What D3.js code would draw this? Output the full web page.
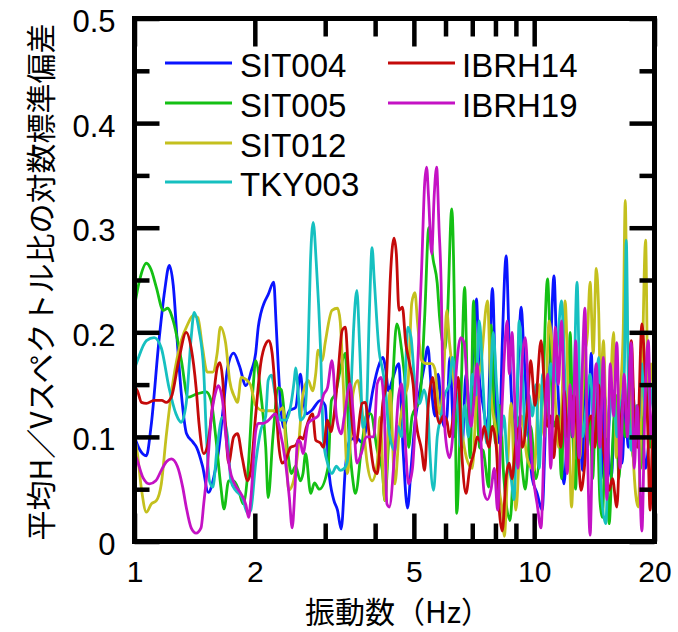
<!DOCTYPE html>
<html><head><meta charset="utf-8">
<script src="https://cdn.jsdelivr.net/npm/d3@7"></script>
<style>
html,body{margin:0;padding:0;background:#fff;}
svg{display:block;}
</style></head>
<body>
<svg id="chart" width="678" height="632"></svg>
<script>
// ---- data (frequency Hz, log standard deviation) ----
const SIT004 = [[1.00,0.100],[1.03,0.088],[1.071,0.082],[1.10,0.11],[1.15,0.19],[1.19,0.24],[1.222,0.264],[1.25,0.245],[1.28,0.19],[1.31,0.141],[1.35,0.103],[1.40,0.095],[1.43,0.09],[1.48,0.072],[1.53,0.047],[1.58,0.062],[1.62,0.084],[1.67,0.13],[1.71,0.166],[1.77,0.18],[1.83,0.168],[1.90,0.149],[1.96,0.163],[2.01,0.18],[2.04,0.205],[2.07,0.218],[2.11,0.228],[2.16,0.236],[2.23,0.248],[2.26,0.21],[2.29,0.166],[2.36,0.109],[2.44,0.125],[2.53,0.128],[2.60,0.16],[2.64,0.14],[2.69,0.122],[2.77,0.125],[2.92,0.135],[3.00,0.13],[3.06,0.07],[3.15,0.04],[3.22,0.03],[3.29,0.012],[3.37,0.07],[3.46,0.097],[3.60,0.099],[3.70,0.095],[3.85,0.12],[3.95,0.145],[4.10,0.17],[4.18,0.176],[4.25,0.165],[4.32,0.144],[4.42,0.155],[4.58,0.17],[4.70,0.087],[4.82,0.032],[4.92,0.07],[5.03,0.113],[5.15,0.14],[5.30,0.166],[5.42,0.186],[5.52,0.15],[5.65,0.12],[5.75,0.16],[5.85,0.13],[5.95,0.11],[6.05,0.12],[6.15,0.176],[6.3,0.1],[6.45,0.14],[6.6,0.09],[6.75,0.16],[6.9,0.12],[7.05,0.19],[7.17,0.232],[7.29,0.157],[7.45,0.13],[7.64,0.109],[7.86,0.242],[8.04,0.125],[8.18,0.094],[8.32,0.189],[8.51,0.273],[8.66,0.189],[8.81,0.125],[8.95,0.1],[9.28,0.224],[9.40,0.19],[9.60,0.125],[9.88,0.061],[10.17,0.046],[10.47,0.03],[10.7,0.12],[10.95,0.17],[11.21,0.254],[11.4,0.17],[11.66,0.094],[11.87,0.055],[12.05,0.09],[12.2,0.14],[12.4,0.1],[12.6,0.16],[12.8,0.08],[13.0,0.12],[13.2,0.068],[13.4,0.15],[13.6,0.1],[13.9,0.18],[14.1,0.09],[14.4,0.13],[14.7,0.06],[15.0,0.14],[15.3,0.09],[15.6,0.061],[15.9,0.12],[16.2,0.08],[16.6,0.075],[16.9,0.13],[17.2,0.09],[17.6,0.15],[18.0,0.1],[18.5,0.12],[19.0,0.07],[19.5,0.1],[20,0.08]];
const SIT005 = [[1.00,0.225],[1.03,0.25],[1.071,0.266],[1.10,0.26],[1.134,0.243],[1.18,0.221],[1.21,0.223],[1.25,0.211],[1.31,0.173],[1.36,0.138],[1.43,0.141],[1.51,0.143],[1.554,0.135],[1.60,0.097],[1.645,0.052],[1.675,0.031],[1.72,0.058],[1.77,0.058],[1.82,0.05],[1.87,0.036],[1.92,0.065],[1.98,0.147],[2.01,0.173],[2.07,0.141],[2.13,0.09],[2.16,0.042],[2.22,0.1],[2.29,0.147],[2.33,0.145],[2.41,0.09],[2.47,0.065],[2.53,0.072],[2.60,0.058],[2.64,0.065],[2.68,0.084],[2.76,0.046],[2.82,0.056],[2.90,0.05],[3.05,0.071],[3.11,0.135],[3.18,0.141],[3.28,0.166],[3.37,0.18],[3.42,0.12],[3.52,0.058],[3.57,0.046],[3.70,0.09],[3.82,0.122],[3.90,0.122],[4.05,0.087],[4.17,0.068],[4.23,0.039],[4.33,0.1],[4.40,0.135],[4.53,0.208],[4.66,0.183],[4.77,0.144],[4.85,0.09],[4.95,0.12],[5.17,0.135],[5.32,0.214],[5.45,0.30],[5.59,0.269],[5.72,0.247],[5.80,0.214],[5.97,0.183],[6.06,0.21],[6.22,0.318],[6.32,0.214],[6.40,0.027],[6.55,0.13],[6.70,0.243],[6.80,0.15],[6.92,0.08],[7.05,0.23],[7.15,0.16],[7.3,0.09],[7.45,0.087],[7.7,0.052],[7.8,0.207],[8.0,0.094],[8.2,0.13],[8.4,0.06],[8.7,0.02],[8.9,0.08],[9.07,0.12],[9.33,0.07],[9.5,0.05],[9.8,0.11],[10.1,0.06],[10.5,0.14],[10.8,0.251],[11.0,0.17],[11.2,0.11],[11.5,0.12],[11.7,0.06],[11.9,0.15],[12.1,0.07],[12.3,0.2],[12.5,0.1],[12.7,0.05],[12.9,0.16],[13.1,0.11],[13.4,0.18],[13.6,0.09],[13.8,0.12],[14.0,0.06],[14.3,0.14],[14.6,0.04],[14.8,0.023],[15.1,0.1],[15.4,0.017],[15.7,0.09],[16.0,0.14],[16.3,0.06],[16.6,0.12],[16.9,0.1],[17.3,0.16],[17.7,0.08],[18.1,0.13],[18.5,0.07],[19.0,0.15],[19.5,0.09],[20,0.12]];
const SIT012 = [[1.00,0.10],[1.017,0.084],[1.041,0.05],[1.071,0.028],[1.102,0.036],[1.134,0.039],[1.167,0.055],[1.20,0.1],[1.25,0.154],[1.309,0.192],[1.36,0.208],[1.40,0.216],[1.44,0.214],[1.48,0.185],[1.52,0.162],[1.57,0.162],[1.61,0.18],[1.64,0.205],[1.69,0.19],[1.73,0.154],[1.78,0.138],[1.81,0.133],[1.85,0.157],[1.90,0.155],[1.95,0.15],[2.01,0.13],[2.10,0.125],[2.20,0.125],[2.30,0.125],[2.35,0.128],[2.39,0.094],[2.43,0.049],[2.50,0.058],[2.57,0.09],[2.64,0.141],[2.72,0.154],[2.79,0.144],[2.84,0.16],[2.88,0.183],[2.95,0.173],[3.00,0.19],[3.12,0.221],[3.22,0.223],[3.27,0.211],[3.33,0.15],[3.41,0.065],[3.46,0.09],[3.52,0.141],[3.62,0.154],[3.71,0.125],[3.82,0.075],[3.93,0.058],[4.05,0.075],[4.11,0.119],[4.23,0.039],[4.36,0.144],[4.48,0.055],[4.61,0.113],[4.75,0.14],[4.83,0.15],[4.94,0.228],[5.03,0.238],[5.11,0.208],[5.23,0.173],[5.39,0.17],[5.54,0.17],[5.64,0.165],[5.80,0.122],[5.94,0.16],[6.04,0.221],[6.14,0.19],[6.32,0.15],[6.50,0.12],[6.77,0.08],[7.00,0.07],[7.20,0.15],[7.36,0.17],[7.64,0.23],[7.80,0.14],[8.04,0.1],[8.18,0.05],[8.32,0.03],[8.42,0.005],[8.6,0.08],[8.75,0.132],[9.0,0.03],[9.3,0.12],[9.6,0.08],[10.0,0.068],[10.3,0.15],[10.6,0.1],[10.9,0.211],[11.2,0.16],[11.5,0.09],[11.75,0.14],[11.95,0.23],[12.2,0.12],[12.4,0.033],[12.6,0.1],[12.8,0.15],[13.0,0.08],[13.3,0.17],[13.6,0.2],[13.8,0.248],[14.05,0.18],[14.3,0.261],[14.5,0.22],[14.65,0.144],[14.9,0.192],[15.2,0.1],[15.45,0.13],[15.8,0.2],[16.05,0.08],[16.4,0.14],[16.7,0.2],[16.9,0.326],[17.1,0.2],[17.4,0.17],[17.7,0.08],[18.2,0.033],[18.6,0.15],[19.0,0.288],[19.3,0.113],[19.6,0.17],[20,0.13]];
const TKY003 = [[1.00,0.165],[1.017,0.173],[1.071,0.192],[1.12,0.195],[1.167,0.185],[1.22,0.147],[1.27,0.122],[1.309,0.114],[1.347,0.132],[1.386,0.195],[1.41,0.219],[1.45,0.202],[1.49,0.163],[1.51,0.109],[1.54,0.058],[1.57,0.052],[1.61,0.09],[1.66,0.119],[1.71,0.10],[1.742,0.058],[1.79,0.049],[1.86,0.042],[1.92,0.027],[1.954,0.03],[2.01,0.075],[2.069,0.106],[2.13,0.12],[2.16,0.154],[2.20,0.159],[2.255,0.138],[2.32,0.116],[2.39,0.116],[2.46,0.13],[2.51,0.154],[2.53,0.166],[2.57,0.14],[2.60,0.116],[2.66,0.12],[2.72,0.185],[2.755,0.266],[2.80,0.305],[2.85,0.266],[2.92,0.185],[2.97,0.097],[3.04,0.075],[3.12,0.065],[3.20,0.072],[3.27,0.068],[3.35,0.07],[3.41,0.077],[3.47,0.13],[3.53,0.2],[3.60,0.24],[3.66,0.185],[3.73,0.109],[3.80,0.12],[3.87,0.22],[3.93,0.281],[3.98,0.25],[4.09,0.183],[4.18,0.163],[4.26,0.14],[4.31,0.113],[4.39,0.094],[4.48,0.087],[4.56,0.11],[4.66,0.1],[4.75,0.151],[4.83,0.205],[4.92,0.195],[5.03,0.15],[5.17,0.132],[5.30,0.145],[5.42,0.125],[5.48,0.087],[5.60,0.049],[5.72,0.1],[5.85,0.12],[5.97,0.14],[6.14,0.151],[6.25,0.176],[6.40,0.14],[6.55,0.09],[6.70,0.13],[6.85,0.1],[7.00,0.16],[7.15,0.14],[7.29,0.211],[7.45,0.15],[7.60,0.094],[7.75,0.14],[7.90,0.2],[8.05,0.15],[8.25,0.1],[8.40,0.12],[8.56,0.077],[8.76,0.06],[8.90,0.04],[9.05,0.12],[9.17,0.211],[9.35,0.16],[9.50,0.1],[9.70,0.14],[9.90,0.12],[10.1,0.15],[10.3,0.07],[10.5,0.16],[10.75,0.12],[11.0,0.17],[11.2,0.15],[11.45,0.19],[11.7,0.23],[11.9,0.17],[12.1,0.09],[12.3,0.14],[12.5,0.12],[12.8,0.248],[13.0,0.144],[13.2,0.1],[13.5,0.13],[13.8,0.16],[14.1,0.12],[14.5,0.176],[14.7,0.049],[15.1,0.017],[15.4,0.11],[15.8,0.144],[16.1,0.1],[16.5,0.13],[16.8,0.16],[17.0,0.288],[17.2,0.15],[17.5,0.087],[17.8,0.13],[18.2,0.11],[18.6,0.17],[19.0,0.12],[19.4,0.15],[19.8,0.13],[20,0.12]];
const IBRH14 = [[1.00,0.148],[1.017,0.144],[1.041,0.133],[1.071,0.132],[1.12,0.135],[1.17,0.135],[1.20,0.133],[1.236,0.138],[1.29,0.173],[1.347,0.2],[1.386,0.185],[1.426,0.147],[1.45,0.113],[1.49,0.084],[1.52,0.09],[1.57,0.132],[1.61,0.166],[1.635,0.171],[1.66,0.157],[1.69,0.11],[1.72,0.075],[1.77,0.1],[1.81,0.103],[1.86,0.08],[1.92,0.058],[1.954,0.068],[2.011,0.122],[2.069,0.17],[2.13,0.189],[2.17,0.192],[2.21,0.18],[2.255,0.138],[2.29,0.097],[2.34,0.075],[2.39,0.078],[2.457,0.09],[2.53,0.092],[2.60,0.1],[2.64,0.098],[2.69,0.109],[2.79,0.122],[2.84,0.097],[2.92,0.094],[2.97,0.09],[3.04,0.116],[3.10,0.105],[3.15,0.118],[3.22,0.154],[3.31,0.202],[3.37,0.205],[3.42,0.17],[3.52,0.106],[3.58,0.094],[3.71,0.132],[3.78,0.133],[3.87,0.1],[3.98,0.068],[4.05,0.065],[4.11,0.09],[4.18,0.132],[4.26,0.15],[4.30,0.183],[4.36,0.247],[4.46,0.29],[4.52,0.275],[4.59,0.221],[4.68,0.224],[4.77,0.19],[4.88,0.17],[4.98,0.15],[5.05,0.119],[5.23,0.087],[5.32,0.068],[5.42,0.125],[5.57,0.157],[5.67,0.13],[5.80,0.113],[5.92,0.12],[6.05,0.115],[6.14,0.1],[6.30,0.125],[6.45,0.157],[6.60,0.08],[6.75,0.046],[6.90,0.07],[7.09,0.087],[7.20,0.1],[7.35,0.095],[7.50,0.11],[7.70,0.09],[7.86,0.11],[8.04,0.09],[8.18,0.03],[8.32,0.01],[8.50,0.06],[8.66,0.075],[8.80,0.06],[9.00,0.094],[9.20,0.11],[9.35,0.09],[9.60,0.125],[9.80,0.173],[10.05,0.13],[10.4,0.192],[10.6,0.15],[10.8,0.11],[11.0,0.12],[11.2,0.08],[11.4,0.12],[11.66,0.09],[11.9,0.144],[12.1,0.1],[12.3,0.13],[12.6,0.14],[12.9,0.08],[13.1,0.049],[13.35,0.07],[13.6,0.11],[13.9,0.12],[14.2,0.09],[14.5,0.15],[14.8,0.1],[15.1,0.07],[15.4,0.049],[15.7,0.06],[16.1,0.033],[16.4,0.1],[16.8,0.14],[17.1,0.11],[17.5,0.192],[17.8,0.12],[18.1,0.09],[18.6,0.208],[18.9,0.17],[19.2,0.12],[19.5,0.03],[19.8,0.1],[20,0.08]];
const IBRH19 = [[1.00,0.085],[1.017,0.077],[1.05,0.061],[1.09,0.055],[1.13,0.058],[1.167,0.068],[1.20,0.076],[1.236,0.079],[1.28,0.072],[1.32,0.052],[1.347,0.033],[1.386,0.013],[1.426,0.008],[1.467,0.013],[1.49,0.036],[1.52,0.068],[1.554,0.116],[1.599,0.144],[1.62,0.149],[1.66,0.135],[1.693,0.1],[1.73,0.07],[1.78,0.055],[1.845,0.046],[1.90,0.035],[1.93,0.023],[1.954,0.04],[2.011,0.106],[2.04,0.113],[2.10,0.113],[2.15,0.115],[2.255,0.122],[2.30,0.11],[2.388,0.075],[2.44,0.042],[2.48,0.013],[2.52,0.05],[2.56,0.097],[2.60,0.095],[2.64,0.084],[2.72,0.113],[2.80,0.117],[2.88,0.12],[2.92,0.128],[2.97,0.14],[3.04,0.147],[3.12,0.173],[3.20,0.12],[3.29,0.103],[3.35,0.12],[3.46,0.151],[3.53,0.12],[3.60,0.075],[3.70,0.085],[3.80,0.1],[3.885,0.1],[3.97,0.1],[4.05,0.151],[4.14,0.157],[4.22,0.12],[4.28,0.036],[4.34,0.033],[4.48,0.087],[4.58,0.14],[4.66,0.151],[4.75,0.1],[4.85,0.055],[4.96,0.07],[5.06,0.13],[5.13,0.183],[5.23,0.262],[5.32,0.342],[5.38,0.358],[5.44,0.33],[5.54,0.275],[5.62,0.33],[5.70,0.358],[5.78,0.3],[5.85,0.247],[5.90,0.166],[6.00,0.1],[6.14,0.08],[6.25,0.1],[6.35,0.15],[6.55,0.195],[6.68,0.19],[6.80,0.15],[6.95,0.11],[7.05,0.13],[7.20,0.17],[7.35,0.1],[7.50,0.046],[7.64,0.04],[7.80,0.05],[7.95,0.07],[8.10,0.03],[8.25,0.1],[8.40,0.17],[8.56,0.211],[8.66,0.16],[8.80,0.2],[8.95,0.13],[9.10,0.07],[9.33,0.173],[9.50,0.195],[9.70,0.13],[9.90,0.07],[10.17,0.036],[10.4,0.013],[10.6,0.1],[10.8,0.16],[11.0,0.07],[11.3,0.205],[11.5,0.15],[11.7,0.211],[11.9,0.13],[12.1,0.065],[12.3,0.15],[12.5,0.1],[12.7,0.192],[12.95,0.08],[13.15,0.15],[13.4,0.223],[13.55,0.12],[13.8,0.006],[14.0,0.1],[14.3,0.17],[14.6,0.09],[14.9,0.176],[15.2,0.04],[15.5,0.17],[15.8,0.12],[16.1,0.19],[16.4,0.07],[16.8,0.16],[17.1,0.1],[17.5,0.19],[17.8,0.07],[18.1,0.13],[18.6,0.01],[18.9,0.12],[19.3,0.192],[19.6,0.1],[20,0.15]];

const seriesNames = ["SIT004","SIT005","SIT012","TKY003","IBRH14","IBRH19"];
const seriesColors = ["#0a14ff","#14c014","#c4c01e","#16c0c0","#c40a0a","#c412c4"];
const xMajorTicks = [1,2,5,10,20];
const xMinorTicks = [3,4,6,7,8,9];
const yMajorTicks = [0,0.1,0.2,0.3,0.4,0.5];
const yMinorTicks = [0.05,0.15,0.25,0.35,0.45];
const xTitle = "振動数（Hz）";
const yTitle = "平均H／Vスペクトル比の対数標準偏差";

const dataSets = [SIT004,SIT005,SIT012,TKY003,IBRH14,IBRH19];

// ---- layout ----
const L = 134.5, R = 654.5, T = 18.5, B = 541.5;
const svg = d3.select("#chart");
const x = d3.scaleLog().domain([1,20]).range([L,R]);
const y = d3.scaleLinear().domain([0,0.5]).range([B,T]);

svg.append("defs").append("clipPath").attr("id","clip")
  .append("rect").attr("x",L).attr("y",T).attr("width",R-L).attr("height",B-T);

const line = d3.line().x(d=>x(d[0])).y(d=>y(d[1])).curve(d3.curveMonotoneX);

const gLines = svg.append("g").attr("clip-path","url(#clip)");
dataSets.forEach((ds,i)=>{
  gLines.append("path").datum(ds).attr("d",line)
    .attr("fill","none").attr("stroke",seriesColors[i])
    .attr("stroke-width",2.8).attr("stroke-linejoin","round").attr("stroke-linecap","round");
});

// ---- ticks (inside, on all 4 sides) ----
const tickW = 4.5;
function styleTicks(g){
  g.select(".domain").remove();
  g.selectAll(".tick line").attr("stroke","#000").attr("stroke-width",tickW);
}
const fontNum = "'Liberation Sans', Arial, sans-serif";
svg.append("g").attr("transform",`translate(0,${B})`)
  .call(d3.axisBottom(x).tickValues(xMajorTicks).tickSize(-28).tickFormat("")).call(styleTicks);
svg.append("g").attr("transform",`translate(0,${B})`)
  .call(d3.axisBottom(x).tickValues(xMinorTicks).tickSize(-18).tickFormat("")).call(styleTicks);
svg.append("g").attr("transform",`translate(0,${T})`)
  .call(d3.axisTop(x).tickValues(xMajorTicks).tickSize(-28).tickFormat("")).call(styleTicks);
svg.append("g").attr("transform",`translate(0,${T})`)
  .call(d3.axisTop(x).tickValues(xMinorTicks).tickSize(-18).tickFormat("")).call(styleTicks);
svg.append("g").attr("transform",`translate(${L},0)`)
  .call(d3.axisLeft(y).tickValues(yMajorTicks).tickSize(-25).tickFormat("")).call(styleTicks);
svg.append("g").attr("transform",`translate(${L},0)`)
  .call(d3.axisLeft(y).tickValues(yMinorTicks).tickSize(-15).tickFormat("")).call(styleTicks);
svg.append("g").attr("transform",`translate(${R},0)`)
  .call(d3.axisRight(y).tickValues(yMajorTicks).tickSize(-25).tickFormat("")).call(styleTicks);
svg.append("g").attr("transform",`translate(${R},0)`)
  .call(d3.axisRight(y).tickValues(yMinorTicks).tickSize(-15).tickFormat("")).call(styleTicks);

// tick labels
const xl = svg.append("g").attr("transform",`translate(0,${B})`)
  .call(d3.axisBottom(x).tickValues(xMajorTicks).tickSize(0).tickPadding(19).tickFormat(d3.format("d")));
xl.select(".domain").remove();
xl.selectAll("text").attr("font-family",fontNum).attr("font-size",30).attr("fill","#000");

const yl = svg.append("g").attr("transform",`translate(${L},0)`)
  .call(d3.axisLeft(y).tickValues(yMajorTicks).tickSize(0).tickPadding(19).tickFormat(d=> d===0 ? "0" : d3.format(".1f")(d)));
yl.select(".domain").remove();
yl.selectAll("text").attr("font-family",fontNum).attr("font-size",31).attr("fill","#000").attr("dy","0.42em");

// frame
svg.append("rect").attr("x",L).attr("y",T).attr("width",R-L).attr("height",B-T)
  .attr("fill","none").attr("stroke","#000").attr("stroke-width",5);

// axis titles
const fontJP = "'Noto Sans CJK JP', 'Noto Sans', sans-serif";
svg.append("text").attr("x",305).attr("y",623).attr("text-anchor","start")
  .attr("font-family",fontJP).attr("font-size",30).attr("fill","#000").text(xTitle);
svg.append("text").attr("transform","translate(52,282) rotate(-90)").attr("text-anchor","middle")
  .attr("font-family",fontJP).attr("font-size",30).attr("fill","#000").text(yTitle);

// legend
const legCols = [{lx:165, tx:240},{lx:388, tx:462}];
const legRows = [63,103,143,182];
seriesNames.forEach((name,i)=>{
  const col = i<4 ? legCols[0] : legCols[1];
  const row = i<4 ? legRows[i] : legRows[i-4];
  svg.append("line").attr("x1",col.lx).attr("x2",col.lx+67).attr("y1",row).attr("y2",row)
    .attr("stroke",seriesColors[i]).attr("stroke-width",3.2);
  svg.append("text").attr("x",col.tx).attr("y",row+14).attr("font-family",fontNum)
    .attr("font-size",33).attr("fill","#000").text(name);
});
</script>
</body></html>
